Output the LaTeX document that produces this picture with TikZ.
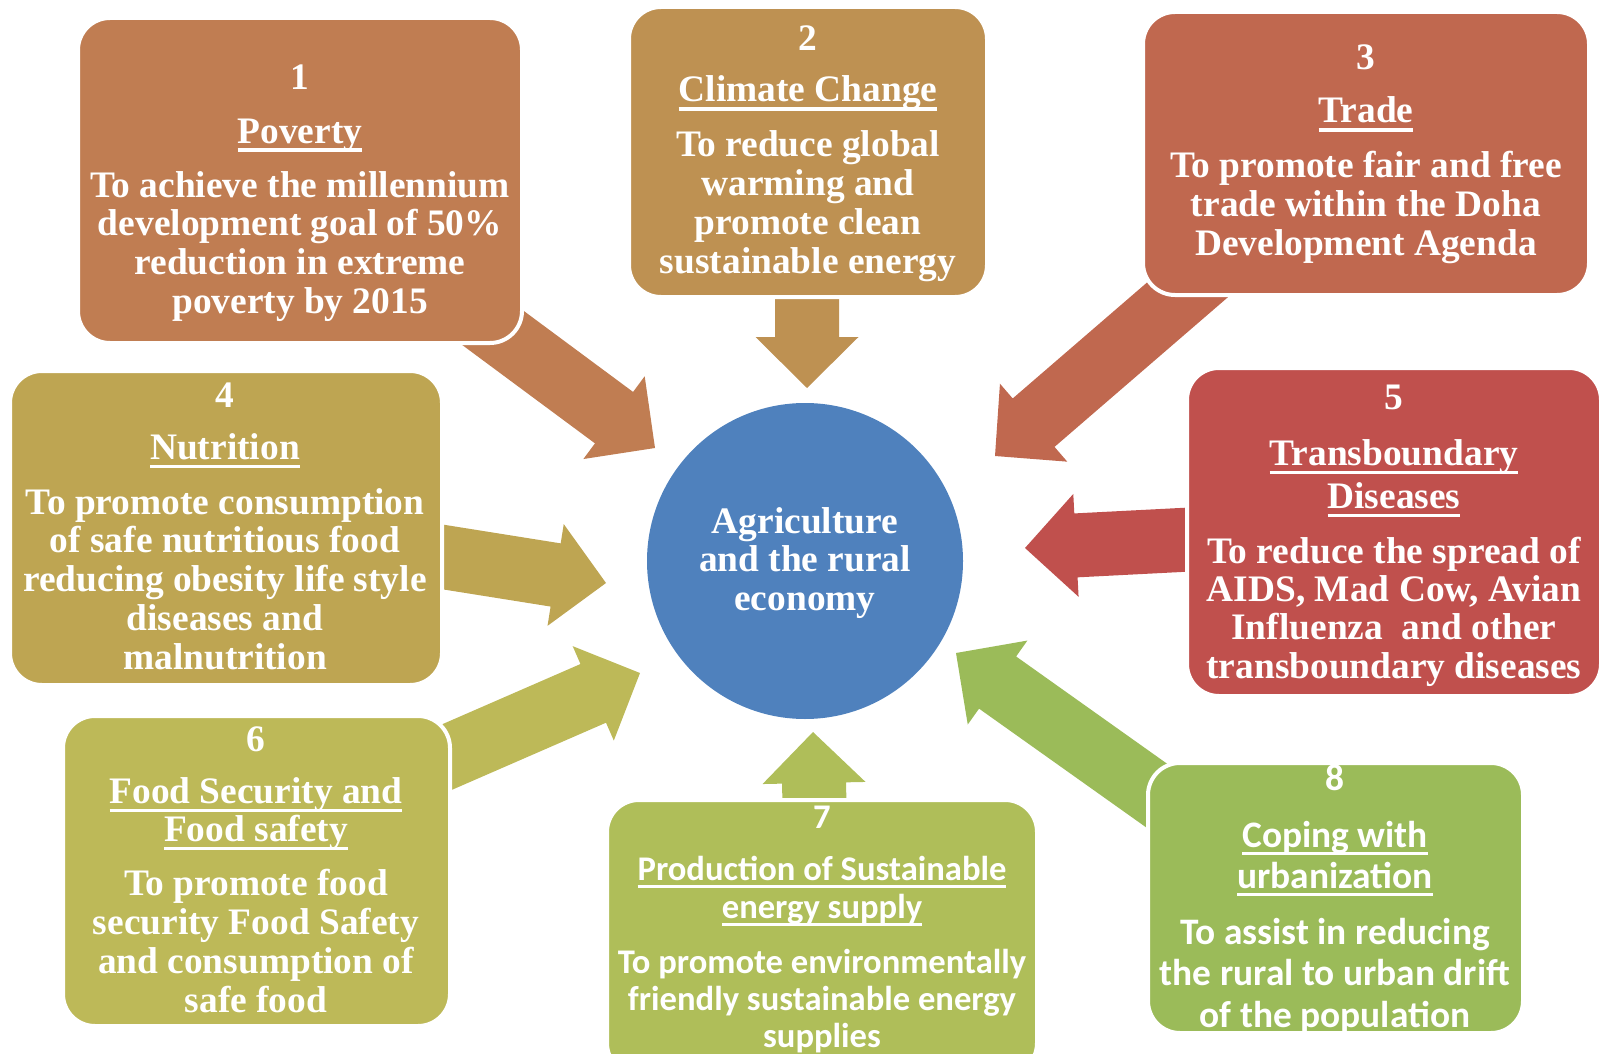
\documentclass[tikz,border=0pt]{standalone}
\usepackage{fontspec}
\setmainfont{Liberation Serif}
\newfontfamily\calib{Carlito}
\usetikzlibrary{calc}
\definecolor{cA}{HTML}{C07D52}
\definecolor{cB}{HTML}{BE9152}
\definecolor{cC}{HTML}{C0684F}
\definecolor{cD}{HTML}{BEA552}
\definecolor{cE}{HTML}{C0504D}
\definecolor{cF}{HTML}{BDB958}
\definecolor{cG}{HTML}{AFBE59}
\definecolor{cH}{HTML}{9BBB59}
\definecolor{cHub}{HTML}{4F81BD}
\newcommand\ulin[1]{\setbox0\hbox{#1}\rlap{\rule[-8.7pt]{\wd0}{3.2pt}}\box0}
\newcommand\ulsans[1]{\setbox0\hbox{#1}\rlap{\rule[-8pt]{\wd0}{2.6pt}}\box0}
\newcommand\blockarrow[3]{%
  \coordinate (#2n) at ($(#3)!51pt!(#2)$);
  \fill[#1] ($(#2)!32pt!90:(#3)$) -- ($(#2n)!32pt!90:(#3)$) -- ($(#2n)!51.5pt!90:(#3)$) -- (#3)
    -- ($(#2n)!51.5pt!270:(#3)$) -- ($(#2n)!32pt!270:(#3)$) -- ($(#2)!32pt!270:(#3)$) -- cycle;
}
\tikzset{
  box/.style={draw=white, line width=4pt, rounded corners=32pt, inner sep=0pt, outer sep=0pt},
  txt/.style={text=white, anchor=base, inner sep=0pt, font=\fontsize{37.4}{38.5}\selectfont\bfseries},
  stxt/.style={text=white, anchor=base, inner sep=0pt, font=\calib\fontsize{34.6}{37}\selectfont\bfseries},
  ltxt/.style={text=white, anchor=base, inner sep=0pt, font=\calib\fontsize{37.4}{41}\selectfont\bfseries},
}
\begin{document}
\begin{tikzpicture}[x=1pt,y=-1pt]
\useasboundingbox (0,0) rectangle (1604,1054);
% arrow end points
\coordinate (t1) at (462,305);  \coordinate (p1) at (655,448);
\coordinate (t2) at (807,280);  \coordinate (p2) at (807,388);
\coordinate (t3) at (1207,273); \coordinate (p3) at (995,456);
\coordinate (t4) at (418,553);  \coordinate (p4) at (606,583);
\coordinate (t5) at (1200,539); \coordinate (p5) at (1025,548);
\coordinate (t6) at (438,761);  \coordinate (p6) at (640,673);
\coordinate (t7) at (815,830);  \coordinate (p7) at (813,732);
\coordinate (t8) at (1184,815); \coordinate (p8) at (956,653);
\blockarrow{cA}{t1}{p1}
\blockarrow{cB}{t2}{p2}
\blockarrow{cC}{t3}{p3}
\blockarrow{cD}{t4}{p4}
\blockarrow{cE}{t5}{p5}
\blockarrow{cF}{t6}{p6}
\blockarrow{cG}{t7}{p7}
\blockarrow{cH}{t8}{p8}
% boxes
\node[box, fill=cA, minimum width=444pt, minimum height=325pt] (b1) at (300,180.5) {};
\node[box, fill=cB, minimum width=358pt, minimum height=290pt] (b2) at (808,152) {};
\node[box, fill=cC, minimum width=446pt, minimum height=283pt] (b3) at (1366,153.5) {};
\node[box, fill=cD, minimum width=432pt, minimum height=314pt] (b4) at (226,528) {};
\node[box, fill=cE, minimum width=414pt, minimum height=328pt] (b5) at (1394,532) {};
\node[box, fill=cF, minimum width=387pt, minimum height=310pt] (b6) at (256.5,871) {};
\node[box, fill=cG, minimum width=430pt, minimum height=275pt] (b7) at (822,937.5) {};
\node[box, fill=cH, minimum width=375pt, minimum height=270pt] (b8) at (1335.5,898) {};
\node[circle, fill=cHub, minimum size=316pt, inner sep=0pt] (hub) at (805,561) {};
% box 1
\node[txt] (n1) at (300,90) {1};
\node[txt] (h1) at (300,143) {\ulin{Poverty}};
\foreach \t [count=\i] in {To achieve the millennium, development goal of 50\%, reduction in extreme, poverty by 2015}
  \node[txt] (d1l\i) at (300,{197+(\i-1)*38.7}) {\t};
% box 2
\node[txt] (n2) at (808,51) {2};
\node[txt] (h2) at (808,102) {\ulin{Climate Change}};
\foreach \t [count=\i] in {To reduce global, warming and, promote clean, sustainable energy}
  \node[txt] (d2l\i) at (808,{157+(\i-1)*38.9}) {\t};
% box 3
\node[txt] (n3) at (1366,70) {3};
\node[txt] (h3) at (1366,123) {\ulin{Trade}};
\foreach \t [count=\i] in {To promote fair and free, trade within the Doha, Development Agenda}
  \node[txt] (d3l\i) at (1366,{178+(\i-1)*38.75}) {\t};
% box 4
\node[txt] (n4) at (225,407) {4};
\node[txt] (h4) at (225,459) {\ulin{Nutrition}};
\foreach \t [count=\i] in {To promote consumption, of safe nutritious food, reducing obesity life style, diseases and, malnutrition}
  \node[txt] (d4l\i) at (225,{514+(\i-1)*38.75}) {\t};
% box 5
\node[txt] (n5) at (1394,409) {5};
\node[txt] (h5a) at (1394,465) {\ulin{Transboundary}};
\node[txt] (h5b) at (1394,508) {\ulin{Diseases}};
\foreach \t [count=\i] in {To reduce the spread of, {AIDS, Mad Cow, Avian}, Influenza\ \ and other, transboundary diseases}
  \node[txt] (d5l\i) at (1394,{563+(\i-1)*38.4}) {\t};
% box 6
\node[txt] (n6) at (256,751) {6};
\node[txt] (h6a) at (256,803) {\ulin{Food Security and}};
\node[txt] (h6b) at (256,841) {\ulin{Food safety}};
\foreach \t [count=\i] in {To promote food, security Food Safety, and consumption of, safe food}
  \node[txt] (d6l\i) at (256,{895+(\i-1)*39}) {\t};
% box 7
\node[stxt] (n7) at (822,828) {7};
\node[stxt] (h7a) at (822,880) {\ulsans{Production of Sustainable}};
\node[stxt] (h7b) at (822,918) {\ulsans{energy supply}};
\foreach \t [count=\i] in {To promote environmentally, friendly sustainable energy, supplies}
  \node[stxt] (d7l\i) at (822,{973+(\i-1)*37}) {\t};
% box 8
\node[ltxt] (n8) at (1335,790) {8};
\node[ltxt] (h8a) at (1335,847) {\ulsans{Coping with}};
\node[ltxt] (h8b) at (1335,888) {\ulsans{urbanization}};
\foreach \t [count=\i] in {To assist in reducing, the rural to urban drift, of the population}
  \node[ltxt] (d8l\i) at (1335,{944+(\i-1)*41.5}) {\t};
% hub
\foreach \t [count=\i] in {Agriculture, and the rural, economy}
  \node[txt] (hl\i) at (805,{533+(\i-1)*38.5}) {\t};
\end{tikzpicture}
\end{document}
